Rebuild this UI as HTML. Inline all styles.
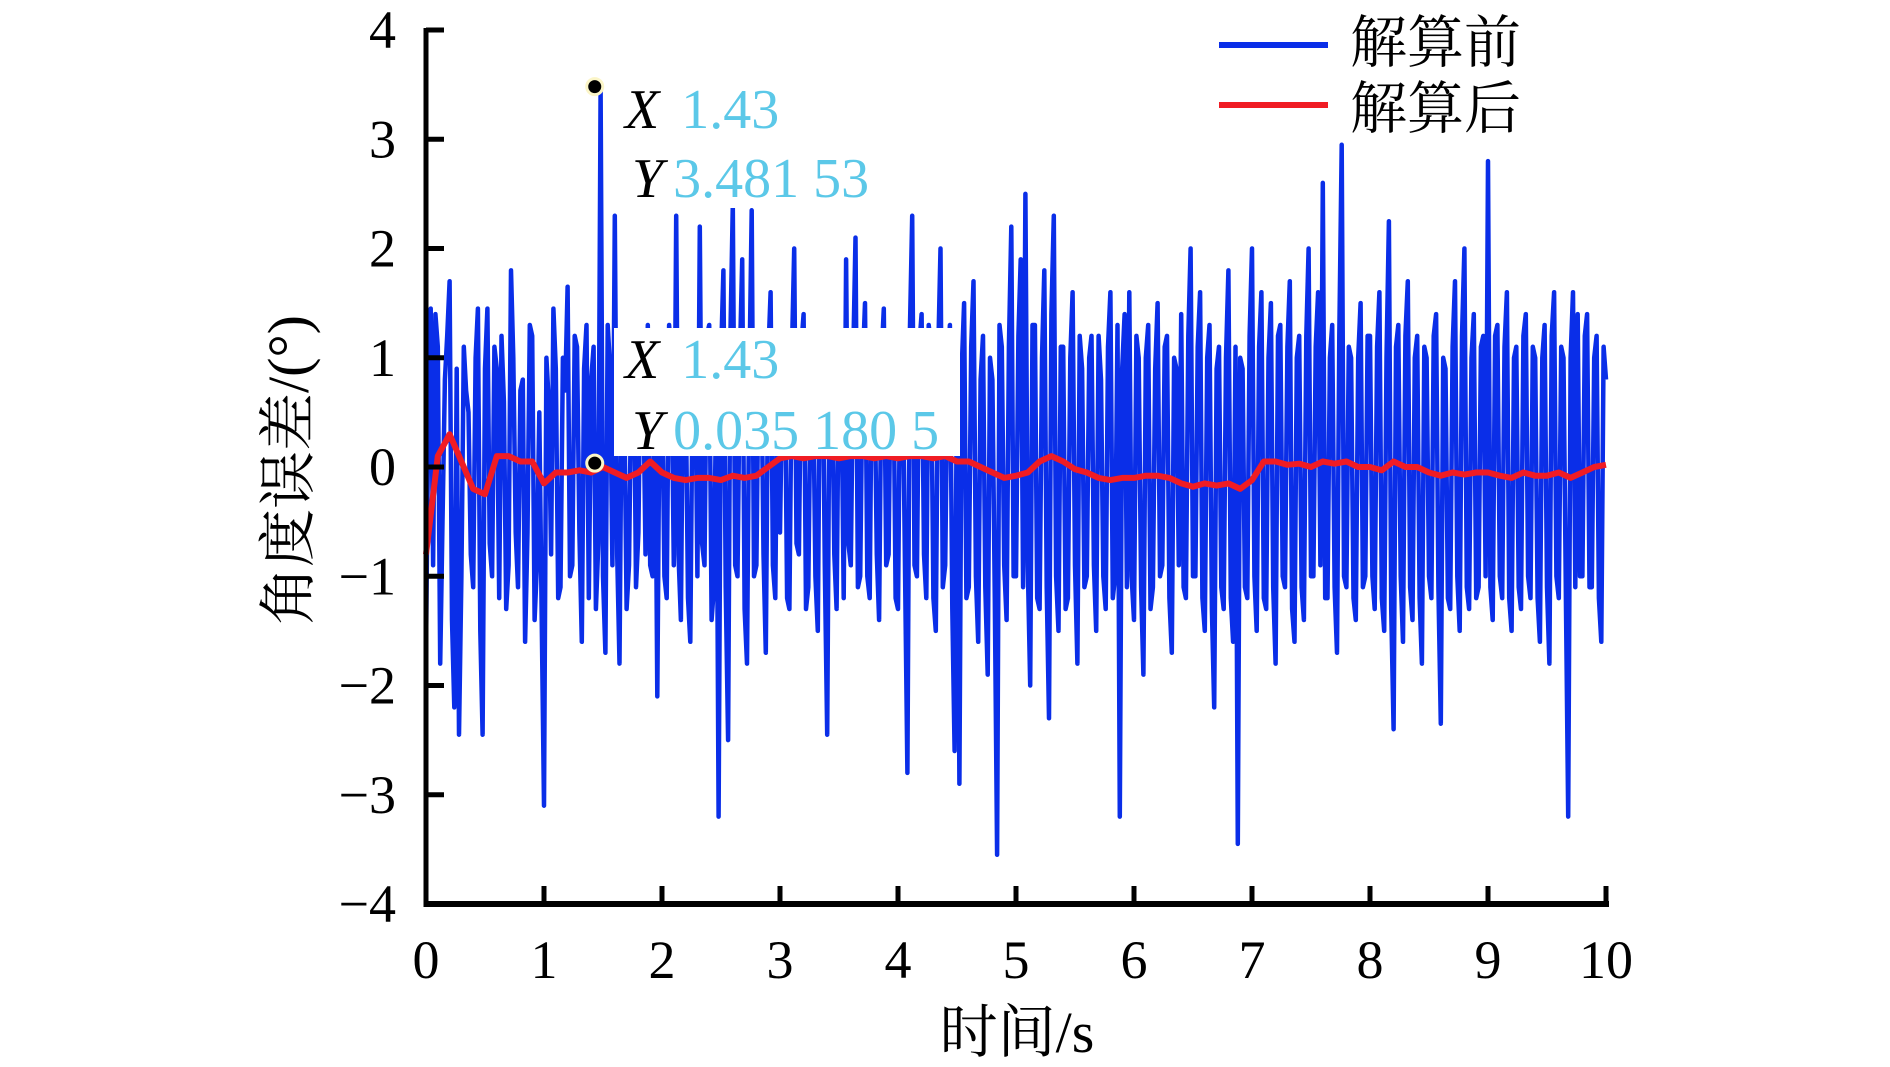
<!DOCTYPE html>
<html><head><meta charset="utf-8">
<style>
html,body{margin:0;padding:0;background:#fff;}
svg{display:block;}
text{font-family:"Liberation Serif","Noto Serif CJK SC",serif;}
.cjk{font-family:"Noto Serif CJK SC","Liberation Serif",serif;}
</style></head>
<body>
<svg id="chart" width="1890" height="1067" viewBox="0 0 1890 1067" xmlns="http://www.w3.org/2000/svg">
<g id="plot"></g>
<g id="axes"></g>
<g id="legend">
  <line x1="1219" y1="45" x2="1328" y2="45" stroke="#0a2ee8" stroke-width="6"/>
  <text class="cjk" x="1350" y="62" font-size="57">解算前</text>
  <line x1="1219" y1="105" x2="1328" y2="105" stroke="#f01c24" stroke-width="6"/>
  <text class="cjk" x="1350" y="128" font-size="57">解算后</text>
</g>
<g id="tips"></g>
</svg>
<script>
const xTicks=[0,1,2,3,4,5,6,7,8,9,10];
const yTicks=[4,3,2,1,0,-1,-2,-3,-4];
const blueStep=0.04;
const blueValues=[
-1.7,1.45,1.4,-1.8,0.8,1.7,-2.2,-2.45,1.1,0.5,-1.1,1.45,-2.45,1.45,-1.0,0.9,1.2,-1.3,1.8,-0.6,0.7,-1.6,1.3,-1.4,0.5,
-3.1,0.6,1.45,-1.2,1.0,1.65,-0.9,1.1,-1.6,1.3,0.8,-1.3,3.48,-1.7,0.9,2.3,-1.8,0.7,-0.9,1.2,-0.6,0.9,1.3,-1.0,-2.1,
0.9,-1.2,1.0,2.3,-1.4,0.8,-1.6,1.2,2.2,-0.9,1.3,-1.1,-3.2,1.8,-2.5,2.4,-1.0,1.9,-1.8,2.35,-0.9,1.2,-1.7,1.6,-1.2,
-0.6,1.1,-1.3,2.0,-0.8,1.4,-1.1,0.9,-1.5,1.2,-2.45,1.0,-1.3,0.8,1.9,-0.9,2.1,-1.0,1.5,-1.2,0.9,-1.4,1.45,-0.8,1.1,
-1.3,0.9,-2.8,2.3,-1.0,1.4,-1.2,1.1,-1.5,2.0,-0.9,1.3,-2.6,-2.9,1.5,-1.1,1.7,-1.6,1.2,-1.9,0.8,-3.55,1.1,-1.4,2.2,
-1.0,1.9,2.5,-2.0,1.3,-1.3,1.8,-2.3,2.3,-1.5,1.1,-1.2,1.6,-1.8,0.9,-1.0,1.2,-1.5,0.8,-1.3,1.6,-1.0,-3.2,1.4,1.6,
-1.4,1.0,-1.9,1.3,-1.1,1.5,-0.9,1.2,-1.7,0.9,1.4,-1.2,2.0,-1.0,1.6,-1.5,1.3,-2.2,1.1,-1.3,1.8,-1.6,-3.45,0.9,-1.2,
2.0,-1.5,1.6,-1.3,1.5,-1.8,1.3,-1.1,1.7,-1.6,1.2,-1.4,2.0,-1.0,1.6,2.6,-1.2,1.3,-1.7,2.95,-1.1,1.0,-1.4,1.5,-1.0,
1.2,-1.3,1.6,-1.5,2.25,-2.4,1.3,-1.6,1.7,-1.4,1.2,-1.8,1.0,-1.2,1.4,-2.35,0.9,-1.3,1.7,-1.5,2.0,-1.3,1.4,-1.1,1.2,
2.8,-1.4,1.3,-1.2,1.6,-1.5,1.1,-1.3,1.4,-1.2,1.0,-1.6,1.3,-1.8,1.6,-1.2,1.0,-3.2,1.6,1.4,-1.0,1.4,-1.1,1.2,-1.6,
0.8];
// in-between samples (t = 0.02 + 0.04*i)
const blueMidValues=[
0.6,-0.9,1.1,-0.5,1.2,-1.4,0.9,-1.0,0.7,-0.8,1.0,-1.5,0.9,-0.7,1.1,-1.2,0.6,-0.9,1.0,-1.1,0.8,-0.6,1.2,-0.9,-1.3,
1.0,-0.8,0.9,-1.1,0.7,-1.0,1.2,-0.6,0.9,-1.2,1.1,-0.7,-1.0,1.3,-0.9,-0.8,1.0,-1.3,0.8,-1.1,1.2,-0.8,-0.9,1.1,0.7,
-1.0,1.3,-0.9,-0.8,1.1,-1.2,0.9,-1.0,-0.7,1.2,-1.4,0.8,1.0,-1.1,1.2,-0.9,1.0,-1.3,0.8,-1.0,1.1,-0.8,1.0,-0.9,1.2,
0.9,-1.2,1.0,-0.7,1.1,-1.3,0.8,-1.0,1.2,-0.9,1.0,-0.8,1.1,-1.2,-0.7,1.0,-1.1,0.9,-1.0,1.2,-0.8,1.0,-0.9,1.1,-1.2,
1.1,-1.0,1.2,-0.9,1.1,-0.8,1.3,-1.2,1.0,-1.1,0.9,-1.3,1.0,0.9,-1.2,1.1,-1.0,0.8,-1.1,1.0,-1.2,1.3,-0.9,1.1,-1.0,
1.2,-1.1,-0.9,1.3,-1.2,1.0,-1.1,1.4,-1.0,1.1,-1.3,1.0,-0.9,1.2,-1.1,1.0,-0.9,1.2,-1.0,1.1,-1.2,1.3,0.9,-1.1,-1.0,
1.2,-1.1,1.0,-1.3,0.9,-1.0,1.1,-1.2,1.0,-0.9,-1.1,1.2,-1.0,1.1,-1.2,1.0,-1.3,0.9,-1.1,1.0,-1.2,1.1,1.0,-1.1,1.2,
-1.0,1.1,-1.2,1.0,-1.1,1.2,-1.0,1.1,-1.3,1.0,-1.1,1.2,-1.0,1.1,-0.9,-1.2,1.0,-1.1,1.2,-1.0,1.1,-1.2,1.0,-1.1,1.2,
-1.0,1.1,-1.2,1.0,-1.3,1.1,-1.0,1.2,-1.1,1.0,-1.2,1.1,-1.0,1.2,-1.1,1.0,-1.2,1.1,-1.0,1.2,-1.1,1.0,-1.2,1.1,-1.0,
-1.1,1.2,-1.0,1.1,-1.2,1.0,-1.1,1.2,-1.0,1.1,-1.2,1.0,-1.1,1.2,-1.0,1.1,-1.2,1.0,-1.1,-1.0,1.2,-1.1,1.0,-1.2,1.1];
const redStep=0.1;
const redValues=[
-0.8,0.1,0.3,0.05,-0.2,-0.25,0.1,0.1,0.05,0.05,
-0.15,-0.05,-0.05,-0.03,-0.05,0.0,-0.05,-0.1,-0.05,0.05,
-0.05,-0.1,-0.12,-0.1,-0.1,-0.12,-0.08,-0.1,-0.08,0.0,
0.08,0.1,0.08,0.1,0.1,0.08,0.1,0.1,0.08,0.1,
0.08,0.1,0.1,0.08,0.1,0.05,0.05,0.0,-0.05,-0.1,
-0.08,-0.05,0.05,0.1,0.05,-0.02,-0.05,-0.1,-0.12,-0.1,
-0.1,-0.08,-0.08,-0.1,-0.15,-0.18,-0.15,-0.17,-0.15,-0.2,
-0.12,0.05,0.05,0.02,0.03,0.0,0.05,0.03,0.05,0.0,
0.0,-0.03,0.05,0.0,0.0,-0.05,-0.08,-0.05,-0.07,-0.05,
-0.05,-0.08,-0.1,-0.05,-0.08,-0.08,-0.05,-0.1,-0.05,0.0,0.02];
const tipX=[1.43,1.43];
const tipY=[3.48153,0.0351805];
const tipYLabels=["3.481 53","0.035 180 5"];

const X0=426,X1=1606,Y0=30,Y1=904;
const xs=v=>X0+(v-0)/(10-0)*(X1-X0);
const ys=v=>Y0+(4-v)/8*(Y1-Y0);
const NS="http://www.w3.org/2000/svg";
function mk(tag,attrs,parent){const e=document.createElementNS(NS,tag);for(const k in attrs)e.setAttribute(k,attrs[k]);parent.appendChild(e);return e;}
const plot=document.getElementById('plot'),axes=document.getElementById('axes'),tips=document.getElementById('tips');

const bluePts=[];
blueValues.forEach((v,i)=>{bluePts.push([i*blueStep,v]);if(i<blueMidValues.length)bluePts.push([i*blueStep+blueStep/2,blueMidValues[i]]);});
let d='';bluePts.forEach((p,i)=>{d+=(i?'L':'M')+xs(p[0]).toFixed(1)+','+ys(p[1]).toFixed(1);});
const bl=mk('path',{d:d,fill:'none',stroke:'#0a2ee8','stroke-width':4.5,'stroke-linejoin':'round'},plot);


let d2='';redValues.forEach((v,i)=>{d2+=(i?'L':'M')+xs(i*redStep).toFixed(1)+','+ys(v).toFixed(1);});
const rl=mk('path',{d:d2,fill:'none',stroke:'#f01c24','stroke-width':6,'stroke-linejoin':'round'},plot);



const ya=mk('line',{x1:X0,y1:Y0-2,x2:X0,y2:Y1+3,stroke:'#000','stroke-width':5},axes);


const xa=mk('line',{x1:X0-2,y1:Y1,x2:X1+3,y2:Y1,stroke:'#000','stroke-width':6},axes);


yTicks.forEach(v=>{
  const t=mk('line',{x1:X0,y1:ys(v),x2:X0+18,y2:ys(v),stroke:'#000','stroke-width':5},axes);
  
  
  const l=mk('text',{x:396,y:ys(v)+18,'font-size':54,'text-anchor':'end'},axes);
  l.textContent=(v<0?'\u2212'+(-v):String(v));
  
  
});
xTicks.forEach(v=>{
  const t=mk('line',{x1:xs(v),y1:Y1,x2:xs(v),y2:Y1-18,stroke:'#000','stroke-width':5},axes);
  
  
  const l=mk('text',{x:xs(v),y:978,'font-size':54,'text-anchor':'middle'},axes);
  l.textContent=String(v);
  
  
});
const xt=mk('text',{x:1017,y:1052,'font-size':58,'text-anchor':'middle'},axes);
xt.innerHTML='<tspan class="cjk">时间</tspan>/s';


const yt=mk('text',{x:0,y:0,'font-size':58,'text-anchor':'middle',transform:'translate(308,470) rotate(-90)'},axes);
yt.innerHTML='<tspan class="cjk">角度误差</tspan>/(°)';



const boxes=[[614,66,300,142],[614,328,346,128]];
const rows=[[128,197],[378,449]];
tipX.forEach((x,i)=>{
  const b=mk('rect',{x:boxes[i][0],y:boxes[i][1],width:boxes[i][2],height:boxes[i][3],fill:'#fff'},tips);
  
  
  const tx=mk('text',{x:625,y:rows[i][0],'font-size':56},tips);
  tx.innerHTML='<tspan font-style="italic" fill="#000">X</tspan><tspan fill="#5bc8e8" dx="22">'+x.toFixed(2)+'</tspan>';
  
  
  const ty=mk('text',{x:632,y:rows[i][1],'font-size':56},tips);
  ty.innerHTML='<tspan font-style="italic" fill="#000">Y</tspan><tspan fill="#5bc8e8" dx="10">'+tipYLabels[i]+'</tspan>';
  
  
  const m=mk('circle',{cx:xs(x),cy:ys(tipY[i]),r:8,fill:'#000',stroke:'#fbf5c8','stroke-width':3},tips);
  
  
});
</script>
</body></html>
